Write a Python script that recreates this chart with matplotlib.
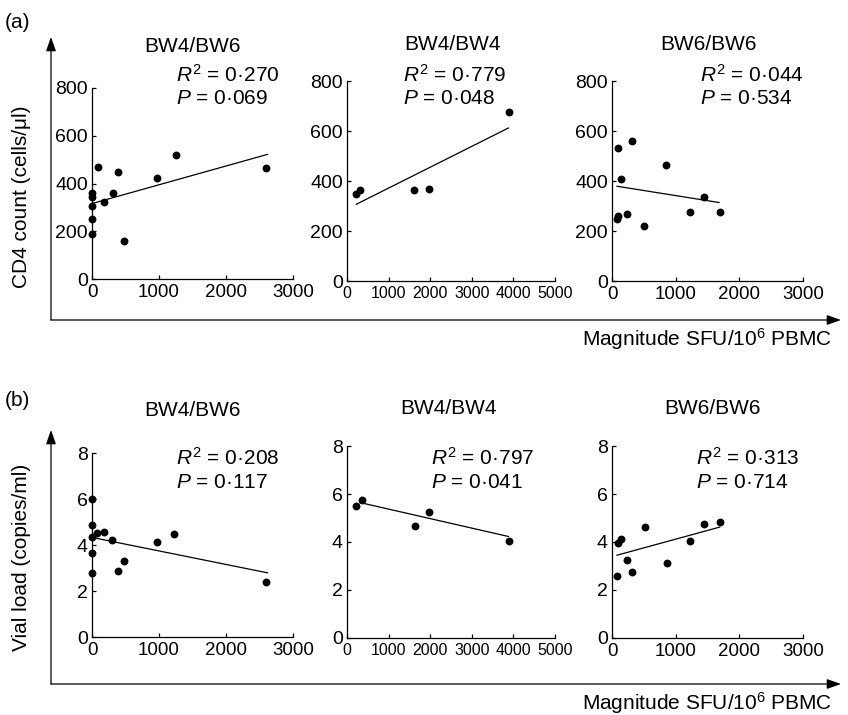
import numpy as np
import matplotlib
matplotlib.use("Agg")
import matplotlib.pyplot as plt
from matplotlib import font_manager

plt.rcParams['font.family'] = ['Liberation Sans', 'DejaVu Sans']
plt.rcParams['mathtext.fontset'] = 'custom'
plt.rcParams['mathtext.rm'] = 'Liberation Sans'
plt.rcParams['mathtext.it'] = 'Liberation Sans:italic'

# narrow font for the crowded 0-5000 axes, if there is one
narrow = 'Liberation Sans'
names = set(f.name for f in font_manager.fontManager.ttflist)
if 'Liberation Sans Narrow' in names:
    narrow = 'Liberation Sans Narrow'

# ---- data ----
groups = ['BW4/BW6', 'BW4/BW4', 'BW6/BW6']

# (a) CD4 count vs magnitude
cd4_x_bw46 = [0, 0, 0, 0, 0, 84, 174, 307, 392, 471, 967, 1250, 2603]
cd4_y_bw46 = [188, 253, 304, 342, 360, 468, 322, 360, 450, 158, 424, 519, 463]
cd4_x_bw44 = [224, 304, 1616, 1968, 3904]
cd4_y_bw44 = [350, 363, 363, 369, 678]
cd4_x_bw66 = [94, 314, 147, 853, 84, 94, 236, 503, 1220, 1450, 1702]
cd4_y_bw66 = [534, 561, 407, 466, 250, 262, 268, 222, 278, 337, 278]

# fitted lines (end points)
cd4_fit_x = [[0, 2620], [224, 3880], [79, 1681]]
cd4_fit_y = [[316, 522], [307, 612], [379, 314]]

cd4_r2 = ['0·270', '0·779', '0·044']
cd4_p = ['0·069', '0·048', '0·534']

# (b) viral load vs magnitude
vl_x_bw46 = [0, 0, 0, 0, 0, 74, 174, 298, 387, 471, 967, 1225, 2603]
vl_y_bw46 = [5.98, 4.87, 4.36, 3.64, 2.79, 4.51, 4.58, 4.20, 2.89, 3.29, 4.13, 4.46, 2.41]
vl_x_bw44 = [224, 368, 1624, 1968, 3904]
vl_y_bw44 = [5.48, 5.76, 4.65, 5.26, 4.06]
vl_x_bw66 = [79, 94, 147, 236, 314, 513, 864, 1220, 1440, 1702]
vl_y_bw66 = [2.59, 3.95, 4.12, 3.26, 2.75, 4.62, 3.11, 4.04, 4.76, 4.84]

vl_fit_x = [[0, 2620], [320, 3880], [79, 1691]]
vl_fit_y = [[4.33, 2.79], [5.64, 4.23], [3.45, 4.62]]

vl_r2 = ['0·208', '0·797', '0·313']
vl_p = ['0·117', '0·041', '0·714']

xmax = [3000, 5000, 3000]

W, H = 848, 715
fig = plt.figure(figsize=(W / 100, H / 100), dpi=100)

# overlay in pixel coordinates for arrows and labels
ov = fig.add_axes([0, 0, 1, 1])
ov.set_xlim(0, W)
ov.set_ylim(H, 0)
ov.axis('off')


def px_axes(x0, y_top, x1, y_bot):
    return fig.add_axes([x0 / W, 1 - y_bot / H, (x1 - x0) / W, (y_bot - y_top) / H])


def panel(ax, xs, ys, fx, fy, xm, ym, yticks, small):
    ax.scatter(xs, ys, s=32, color='black', clip_on=False, zorder=3, linewidths=0)
    ax.plot(fx, fy, color='black', lw=0.9)
    ax.set_xlim(0, xm)
    ax.set_ylim(0, ym)
    ax.set_xticks(np.arange(0, xm + 1, 1000))
    ax.set_yticks(yticks)
    for s in ['top', 'right']:
        ax.spines[s].set_visible(False)
    for s in ['left', 'bottom']:
        ax.spines[s].set_linewidth(0.9)
    ax.tick_params(direction='in', length=3, width=0.9)
    ax.tick_params(axis='y', labelsize=14, pad=3)
    ax.tick_params(axis='x', labelsize=13.5, pad=3.5)
    if small:
        for lab in ax.get_xticklabels():
            lab.set_fontfamily(narrow)
            if narrow == 'Liberation Sans':
                lab.set_fontsize(11.5)
    ax.patch.set_alpha(0)


# panel boxes (pixels): left, top, right, bottom
boxes_a = [(92, 88, 293, 279), (347, 81, 555, 281), (612, 81, 803, 281)]
boxes_b = [(92, 453, 293, 637), (347, 446, 555, 638), (612, 446, 803, 638)]

cd4_x = [cd4_x_bw46, cd4_x_bw44, cd4_x_bw66]
cd4_y = [cd4_y_bw46, cd4_y_bw44, cd4_y_bw66]
vl_x = [vl_x_bw46, vl_x_bw44, vl_x_bw66]
vl_y = [vl_y_bw46, vl_y_bw44, vl_y_bw66]

title_a = [(192, 47), (452, 45), (708, 45)]
stat_a = [176, 403, 700]
title_b = [(192, 410), (448, 408), (712, 408)]
stat_b = [176, 431, 696]

for i in range(3):
    ax = px_axes(*boxes_a[i])
    panel(ax, cd4_x[i], cd4_y[i], cd4_fit_x[i], cd4_fit_y[i], xmax[i], 800,
          [0, 200, 400, 600, 800], xmax[i] > 3000)
    ov.text(title_a[i][0], title_a[i][1], groups[i], ha='center', va='center', fontsize=15)
    ov.text(stat_a[i], 75, r'$R^2$ = ' + cd4_r2[i], ha='left', va='center', fontsize=15)
    ov.text(stat_a[i], 99, r'$P$ = ' + cd4_p[i], ha='left', va='center', fontsize=15)

    ax = px_axes(*boxes_b[i])
    panel(ax, vl_x[i], vl_y[i], vl_fit_x[i], vl_fit_y[i], xmax[i], 8,
          [0, 2, 4, 6, 8], xmax[i] > 3000)
    ov.text(title_b[i][0], title_b[i][1], groups[i], ha='center', va='center', fontsize=15)
    ov.text(stat_b[i], 458, r'$R^2$ = ' + vl_r2[i], ha='left', va='center', fontsize=15)
    ov.text(stat_b[i], 483, r'$P$ = ' + vl_p[i], ha='left', va='center', fontsize=15)

# outer arrows
arrow = dict(arrowstyle='-|>,head_length=0.85,head_width=0.3', mutation_scale=10,
             color='black', lw=0.9, shrinkA=0, shrinkB=0)
for ybase, ytip in [(320, 37), (684, 430)]:
    ov.annotate('', xy=(51, ytip), xytext=(51, ybase), arrowprops=arrow)
    ov.annotate('', xy=(841, ybase), xytext=(51, ybase), arrowprops=arrow)
    ov.text(832, ybase + 19, r'Magnitude SFU/10$^6$ PBMC', ha='right', va='center', fontsize=15)

ov.text(5, 22, '(a)', ha='left', va='center', fontsize=15)
ov.text(5, 400, '(b)', ha='left', va='center', fontsize=15)
ov.text(22, 197, 'CD4 count (cells/μl)', rotation=90, ha='center', va='center', fontsize=15)
ov.text(22, 557, 'Vial load (copies/ml)', rotation=90, ha='center', va='center', fontsize=15)

fig.savefig('out.png', dpi=100)
